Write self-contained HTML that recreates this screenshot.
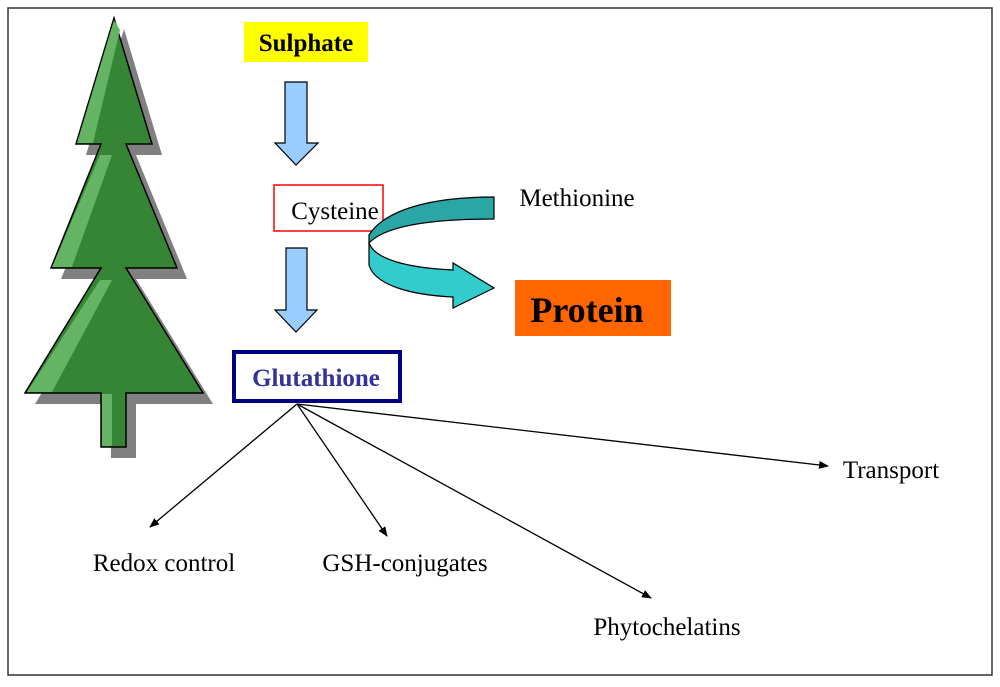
<!DOCTYPE html>
<html><head><style>body{margin:0;background:#fff}</style></head><body>
<svg width="1000" height="682" viewBox="0 0 1000 682" xmlns="http://www.w3.org/2000/svg" font-family="Liberation Serif, serif">
<rect x="8" y="8" width="984" height="667" fill="#fff" stroke="#333" stroke-width="1.5"/>
<polygon transform="translate(10,11)" fill="#808080" points="114,18 152,144 126,144 177,268 126,268 203,393 126,393 126,447 101,447 101,393 25,393 101,268 51,268 101,144 76,144"/>
<polygon fill="#358535" stroke="#000" stroke-width="1.5" points="114,18 152,144 126,144 177,268 126,268 203,393 126,393 126,447 101,447 101,393 25,393 101,268 51,268 101,144 76,144"/>
<polygon fill="#64b464" points="114,20 77,143 93,143 120,30"/>
<polygon fill="#64b464" points="100,155 52,267 72,267 112,155"/>
<polygon fill="#64b464" points="100,280 27,392 52,392 112,280"/>
<rect x="102" y="394" width="10" height="52" fill="#64b464"/>
<rect x="244" y="22" width="124" height="40" fill="#ffff00"/>
<text x="306" y="51" font-size="25" font-weight="bold" text-anchor="middle">Sulphate</text>
<polygon fill="#99ccff" stroke="#000" stroke-width="1.2" points="285,82 307,82 307,143 318,143 296,165 275,143 285,143"/>
<rect x="274" y="185" width="109" height="46" fill="#fff" stroke="#ff0000" stroke-width="1.5"/>
<text x="335" y="219" font-size="25" text-anchor="middle">Cysteine</text>
<polygon fill="#99ccff" stroke="#000" stroke-width="1.2" points="286,248 307,248 307,310 317,310 296,332 275,310 286,310"/>
<path d="M369,243 L369,265 C375,285 410,295 453,297 L453,308 L494,288 L453,263 L453,270 C410,268 375,260 369,243 Z" fill="#33cccc" stroke="#000" stroke-width="1.2"/>
<path d="M494,197 L494,219 C430,219 385,226 369,243 L369,235 C385,210 430,197 494,197 Z" fill="#2aa6a6" stroke="#000" stroke-width="1.2"/>
<text x="577" y="206" font-size="25" text-anchor="middle">Methionine</text>
<rect x="515" y="280" width="156" height="56" fill="#ff6600"/>
<text x="587" y="322" font-size="36" font-weight="bold" text-anchor="middle">Protein</text>
<rect x="234" y="352" width="166" height="49" fill="#fff" stroke="#000080" stroke-width="4"/>
<text x="316" y="386" font-size="25" font-weight="bold" fill="#333399" text-anchor="middle">Glutathione</text>
<defs><marker id="a" markerWidth="10" markerHeight="8" refX="9" refY="4" orient="auto" markerUnits="userSpaceOnUse"><polygon points="0,0 10,4 0,8"/></marker></defs>
<g stroke="#000" stroke-width="1.3" marker-end="url(#a)">
<line x1="297" y1="404" x2="150" y2="527"/>
<line x1="297" y1="404" x2="387" y2="536"/>
<line x1="297" y1="404" x2="651" y2="598"/>
<line x1="297" y1="404" x2="828" y2="466"/>
</g>
<g font-size="25" text-anchor="middle">
<text x="164" y="571">Redox control</text>
<text x="405" y="571">GSH-conjugates</text>
<text x="667" y="635">Phytochelatins</text>
<text x="891" y="478">Transport</text>
</g>
</svg>
</body></html>
